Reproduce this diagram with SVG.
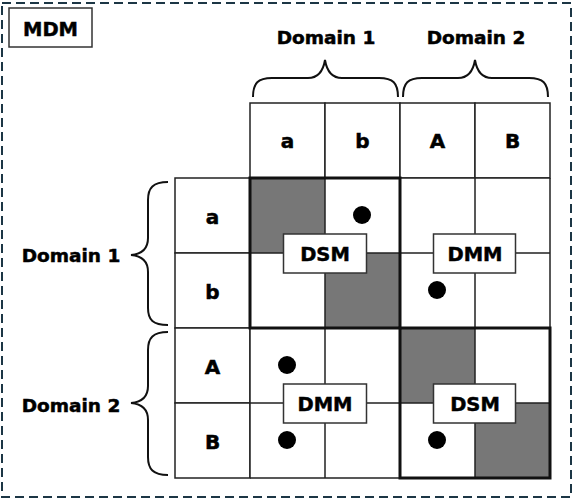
<svg xmlns="http://www.w3.org/2000/svg" width="574" height="500" viewBox="0 0 574 500">
<style>
text{font-family:"DejaVu Sans","Liberation Sans",sans-serif;font-weight:bold;font-size:19.5px;fill:#000;stroke:#000;stroke-width:0.5;text-anchor:middle}
.dom{font-size:18.5px}
.let{font-size:20px}
.cell{fill:#fff;stroke:#222;stroke-width:1.5}
.grey{fill:#777;stroke:none}
.thick{fill:none;stroke:#111;stroke-width:3}
.dot{fill:#000}
.lbl{fill:#fff;stroke:#333;stroke-width:1.5}
.brace{fill:none;stroke:#111;stroke-width:2}
</style>
<rect x="0" y="0" width="574" height="500" fill="#fff"/>
<rect id="frame" x="2" y="3" width="569" height="494" fill="none" stroke="#1c3645" stroke-width="2" stroke-dasharray="9,5"/>
<g id="mdm"><rect x="9" y="8" width="83" height="39" fill="#fff" stroke="#333" stroke-width="1.5"/><text x="50.5" y="36">MDM</text></g>
<g id="braces">
<path class="brace" d="M253,97 C253,83 258,78 272,78 L308,78 C318,78 323,72 325,60 C327,72 332,78 342,78 L379,78 C393,78 398,83 398,97"/>
<path class="brace" d="M403,97 C403,83 408,78 422,78 L458,78 C468,78 473,72 475,60 C477,72 482,78 492,78 L529,78 C543,78 548,83 548,97"/>
<path class="brace" d="M168,182 C153,182 148,188 148,200 L148,238 C148,248 143,254 131,255 C143,256 148,262 148,272 L148,308 C148,320 153,325 168,325"/>
<path class="brace" d="M168,332 C153,332 148,338 148,350 L148,386 C148,396 143,402 131,403 C143,404 148,410 148,420 L148,457 C148,469 153,475 168,475"/>
</g>
<g id="domain-labels">
<text class="dom" x="326" y="44">Domain 1</text>
<text class="dom" x="476" y="44">Domain 2</text>
<text class="dom" x="71" y="262">Domain 1</text>
<text class="dom" x="71" y="412">Domain 2</text>
</g>
<g id="header">
<rect class="cell" x="250" y="103" width="75" height="75"/><rect class="cell" x="325" y="103" width="75" height="75"/>
<rect class="cell" x="400" y="103" width="75" height="75"/><rect class="cell" x="475" y="103" width="75" height="75"/>
<text class="let" x="287.5" y="148">a</text><text class="let" x="362.5" y="148">b</text><text class="let" x="437.5" y="148">A</text><text class="let" x="512.5" y="148">B</text>
</g>
<g id="rowheader">
<rect class="cell" x="175" y="178" width="75" height="75"/><rect class="cell" x="175" y="253" width="75" height="75"/>
<rect class="cell" x="175" y="328" width="75" height="75"/><rect class="cell" x="175" y="403" width="75" height="75"/>
<text class="let" x="212.5" y="224">a</text><text class="let" x="212.5" y="299">b</text><text class="let" x="212.5" y="374">A</text><text class="let" x="212.5" y="449">B</text>
</g>
<g id="matrix">
<rect x="250" y="178" width="300" height="300" fill="#fff"/>
<rect class="grey" x="250" y="178" width="75" height="75"/>
<rect class="grey" x="325" y="253" width="75" height="75"/>
<rect class="grey" x="400" y="328" width="75" height="75"/>
<rect class="grey" x="475" y="403" width="75" height="75"/>
<path d="M250,178H550M250,253H550M250,328H550M250,403H550M250,478H550M250,178V478M325,178V478M400,178V478M475,178V478M550,178V478" fill="none" stroke="#222" stroke-width="1.5"/>
<rect class="thick" x="250" y="178" width="150" height="150"/>
<rect class="thick" x="400" y="328" width="150" height="150"/>
<circle class="dot" cx="362" cy="215" r="9"/>
<circle class="dot" cx="437" cy="290" r="9"/>
<circle class="dot" cx="287" cy="365" r="9"/>
<circle class="dot" cx="287" cy="440" r="9"/>
<circle class="dot" cx="437" cy="440" r="9"/>
</g>
<g id="dsm1"><rect class="lbl" x="283.5" y="234" width="83" height="39"/><text x="325" y="261">DSM</text></g>
<g id="dmm1"><rect class="lbl" x="433.5" y="234" width="82" height="39"/><text x="475" y="261">DMM</text></g>
<g id="dmm2"><rect class="lbl" x="283.5" y="384" width="83" height="39"/><text x="325" y="411">DMM</text></g>
<g id="dsm2"><rect class="lbl" x="433.5" y="384" width="82" height="39"/><text x="475" y="411">DSM</text></g>
</svg>
